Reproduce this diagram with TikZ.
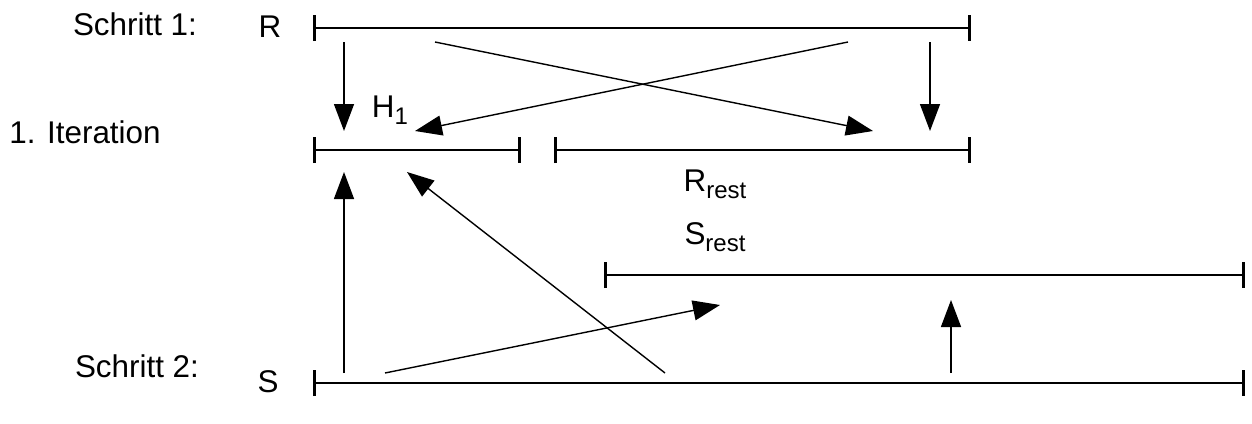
\documentclass[tikz,border=0pt]{standalone}
\usepackage{fontspec}
\setmainfont{Liberation Sans}
\usetikzlibrary{arrows.meta,positioning}

% lowered, smaller subscript
\newcommand{\lowsub}[1]{\raisebox{-3.6pt}{\fontsize{12}{14}\selectfont #1}}

\begin{document}
\begin{tikzpicture}[
        x=0.5pt, y=-0.5pt,
        font=\fontsize{15.7}{19}\selectfont,
        label/.style={
            inner sep=0pt,
            anchor=base
        },
        relation/.style={
            {Bar[width=13pt,line width=1.4pt]}-{Bar[width=13pt,line width=1.4pt]},
            line width=0.9pt
        },
        arrow/.style={
            -{Triangle[length=13.5pt,width=10pt]},
            line width=0.7pt
        }
    ]
        \useasboundingbox (0,0) rectangle (1252,423);

        % labels
        \node[label] (step1) at (135,35) {Schritt 1:};
        \node[label] (step2) at (137,377) {Schritt 2:};
        \node[label] (iter) at (85,143) {1. Iteration};
        \node[label] (rname) at (270,37) {R};
        \node[label] (sname) at (268,392) {S};
        \node[label] (hone) at (390,117) {H\lowsub{1}};
        \node[label] (rrest) at (715,191) {R\lowsub{rest}};
        \node[label] (srest) at (715,244) {S\lowsub{rest}};

        % relations and partitions
        \coordinate (r-l) at (313,28);
        \coordinate (r-r) at (971,28);
        \coordinate (h-l) at (313,150);
        \coordinate (h-r) at (521,150);
        \coordinate (rr-l) at (554,150);
        \coordinate (rr-r) at (971,150);
        \coordinate (sr-l) at (604,275);
        \coordinate (sr-r) at (1245,275);
        \coordinate (s-l) at (313,383);
        \coordinate (s-r) at (1245,383);

        \draw[relation] (r-l) -- (r-r);
        \draw[relation] (h-l) -- (h-r);
        \draw[relation] (rr-l) -- (rr-r);
        \draw[relation] (sr-l) -- (sr-r);
        \draw[relation] (s-l) -- (s-r);

        % step 1: partitioning R
        \coordinate (ra) at (344,42);
        \coordinate (rb) at (435,42);
        \coordinate (rc) at (848,42);
        \coordinate (rd) at (930,42);
        \coordinate (ha) at (344,131);
        \coordinate (hb) at (415,131);
        \coordinate (rra) at (873,131);
        \coordinate (rrb) at (930,131);

        \draw[arrow] (ra) -- (ha);
        \draw[arrow] (rb) -- (rra);
        \draw[arrow] (rc) -- (hb);
        \draw[arrow] (rd) -- (rrb);

        % step 2: partitioning S
        \coordinate (sa) at (344,373);
        \coordinate (sb) at (385,373);
        \coordinate (sc) at (665,373);
        \coordinate (sd) at (951,373);
        \coordinate (hc) at (344,172);
        \coordinate (hd) at (407,172);
        \coordinate (sra) at (720,305);
        \coordinate (srb) at (951,300);

        \draw[arrow] (sa) -- (hc);
        \draw[arrow] (sb) -- (sra);
        \draw[arrow] (sc) -- (hd);
        \draw[arrow] (sd) -- (srb);

    \end{tikzpicture}
\end{document}
